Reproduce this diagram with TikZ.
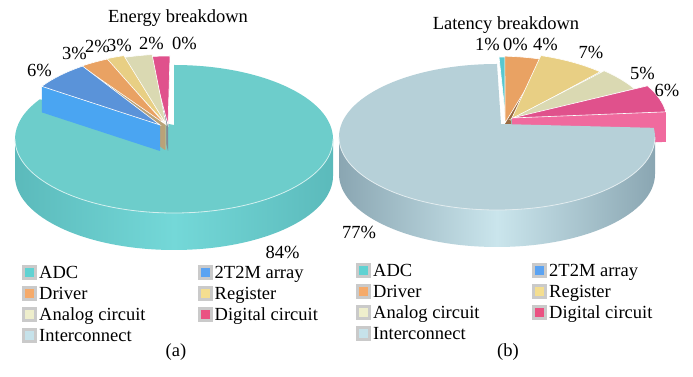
\documentclass[tikz,border=0pt]{standalone}
\usepackage{fontspec}
\setmainfont{Liberation Serif}
\usetikzlibrary{positioning}
\usetikzlibrary{calc}

\definecolor{adc}{HTML}{6DCDCB}
\definecolor{adcmid}{HTML}{74D8D8}
\definecolor{adcedge}{HTML}{5BBABB}
\definecolor{adcb}{HTML}{58C8D0}
\definecolor{adcface}{HTML}{3EA8B0}
\definecolor{arr}{HTML}{5A93D9}
\definecolor{arrface}{HTML}{4AA5F2}
\definecolor{drv}{HTML}{E9A263}
\definecolor{drvface}{HTML}{B9A278}
\definecolor{drvfaceb}{HTML}{9A6B42}
\definecolor{reg}{HTML}{E8CF84}
\definecolor{regface}{HTML}{B0BC92}
\definecolor{ana}{HTML}{DAD9B2}
\definecolor{anaface}{HTML}{9CB8AE}
\definecolor{dig}{HTML}{E0518C}
\definecolor{digface}{HTML}{F06A9E}
\definecolor{digfacea}{HTML}{7C8C98}
\definecolor{icn}{HTML}{B6D0D8}
\definecolor{icnmid}{HTML}{CAE5EC}
\definecolor{icnedge}{HTML}{8AA6B2}
\definecolor{legframe}{HTML}{CACACA}
\definecolor{keyadc}{HTML}{60D2D2}
\definecolor{keyarr}{HTML}{5BA3F2}
\definecolor{keydrv}{HTML}{F5AA6A}
\definecolor{keyreg}{HTML}{F4DE90}
\definecolor{keyana}{HTML}{EEEECC}
\definecolor{keydig}{HTML}{EA5282}
\definecolor{keyicn}{HTML}{C6E2EA}

\begin{document}
\begin{tikzpicture}[x=1pt, y=1pt, font=\fontsize{18.5}{20}\selectfont,
			legbox/.style={draw=legframe, line width=3pt, minimum size=12pt, inner sep=0pt},
			legtext/.style={inner sep=1pt, text height=12pt, text depth=0pt},
			pct/.style={anchor=base, inner sep=0pt},
			rim/.style={draw=white, line width=0.6pt}]
			\fill[white] (0,0) rectangle (693,377);
			\useasboundingbox (0,0) rectangle (693,377);
			% (a) energy
			\coordinate (Ca) at (174,238);
			\coordinate (Va) at (174,252);
			\shade[left color=adcedge, right color=adcedge, middle color=adcmid] ($(Ca)+(180:159 and 74)$) arc[start angle=180, end angle=360, x radius=159, y radius=74] -- ++(0,-37) arc[start angle=360, end angle=180, x radius=159, y radius=74] -- cycle;
			\fill[adc] (Va) -- ($(Ca)+(90:159 and 74)$) arc[start angle=90, end angle=-212.4, x radius=159, y radius=74] -- cycle;
			\draw[white!70!adc, line width=0.8pt] ($(Ca)+(180:159 and 74)$) arc[start angle=180, end angle=360, x radius=159, y radius=74];
			\foreach \s/\e/\tc/\fc/\vx/\vy/\ox/\oy in {90/97.2/dig/digfacea/-6/0/-4/9, 97.2/108/ana/anaface/-8/1/-2/11, 108/115.2/reg/regface/-8/1/-1/13, 115.2/126/drv/drvface/-9/1/1/13, 126/147.6/arr/arrface/-14/0/2/13}{
				\coordinate (v) at ($(Va)+(\vx,\vy)$);
				\coordinate (o) at ($(Ca)+(\ox,\oy)$);
				\fill[\fc] (v) -- ($(o)+(\e:159 and 74)$) -- ++(0,-26) -- ($(v)+(0,-26)$) -- cycle;
				\filldraw[fill=\tc, rim] (v) -- ($(o)+(\s:159 and 74)$) arc[start angle=\s, end angle=\e, x radius=159, y radius=74] -- cycle;
			}
			% (b) latency
			\coordinate (Cb) at (497,240);
			\coordinate (Vb) at (501,253);
			\foreach \s/\e/\tc/\fc/\vx/\vy/\ox/\oy in {86.4/90/adcb/adcface/5/3/2/7, 72/86.4/drv/drvfaceb/4/1/-2/8, 46.8/72/reg/regface/10/4/-5/12, 28.8/46.8/ana/anaface/10/5/-1/13, 7.2/28.8/dig/digface/11/6/12/16}{
				\coordinate (v) at ($(Vb)+(\vx,\vy)$);
				\coordinate (o) at ($(Cb)+(\ox,\oy)$);
				\fill[\fc] (v) -- ($(o)+(\s:158 and 73)$) -- ++(0,-30) -- ($(v)+(0,-30)$) -- cycle;
				\filldraw[fill=\tc, rim] (v) -- ($(o)+(\s:158 and 73)$) arc[start angle=\s, end angle=\e, x radius=158, y radius=73] -- cycle;
			}
			\shade[left color=icnedge, right color=icnedge, middle color=icnmid] ($(Cb)+(180:158 and 73)$) arc[start angle=180, end angle=360, x radius=158, y radius=73] -- ++(0,-37) arc[start angle=360, end angle=180, x radius=158, y radius=73] -- cycle;
			\fill[icn] (Vb) -- ($(Cb)+(90:158 and 73)$) arc[start angle=90, end angle=367.2, x radius=158, y radius=73] -- cycle;
			\draw[white!60!icn, line width=0.8pt] ($(Cb)+(180:158 and 73)$) arc[start angle=180, end angle=360, x radius=158, y radius=73];
			% titles and values
			\node[pct] (energy) at (178,354) {Energy breakdown};
			\node[pct] (latency) at (506,347) {Latency breakdown};
			\node[pct] (eadc) at (282.5,118) {84\%};
			\node[pct] (earr) at (39.5,300) {6\%};
			\node[pct] (edrv) at (74.5,317) {3\%};
			\node[pct] (ereg) at (97.5,324) {2\%};
			\node[pct] (eana) at (119.5,325) {3\%};
			\node[pct] (edig) at (151.5,327) {2\%};
			\node[pct] (eicn) at (184.5,327) {0\%};
			\node[pct] (ladc) at (487.5,326) {1\%};
			\node[pct] (larr) at (515.5,326) {0\%};
			\node[pct] (ldrv) at (545.5,326) {4\%};
			\node[pct] (lreg) at (591,318) {7\%};
			\node[pct] (lana) at (642.5,297) {5\%};
			\node[pct] (ldig) at (667,280) {6\%};
			\node[pct] (licn) at (359,138) {77\%};
			% legends
			\foreach \n/\col/\txt/\x/\y in {adcA/keyadc/ADC/29.5/104, drvA/keydrv/Driver/29.5/83, anaA/keyana/Analog circuit/29.5/62, icnA/keyicn/Interconnect/29.5/41, arrA/keyarr/2T2M array/205/104, regA/keyreg/Register/205/83, digA/keydig/Digital circuit/205/62, adcB/keyadc/ADC/363.5/106, drvB/keydrv/Driver/363.5/85, anaB/keyana/Analog circuit/363.5/64, icnB/keyicn/Interconnect/363.5/43, arrB/keyarr/2T2M array/539.5/106, regB/keyreg/Register/539.5/85, digB/keydig/Digital circuit/539.5/64}{
				\node[legbox, fill=\col] (key\n) at (\x,\y) {};
				\node[legtext, right=1pt of key\n] (txt\n) {\txt};
			}
			\node[pct] (capa) at (176,20) {(a)};
			\node[pct] (capb) at (508,20) {(b)};
	\end{tikzpicture}
\end{document}
